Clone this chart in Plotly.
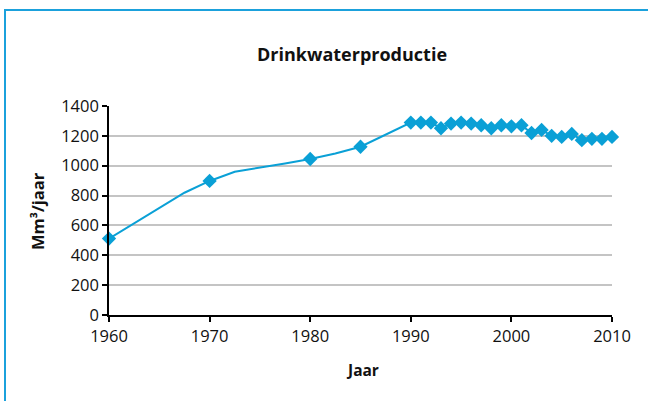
import plotly.graph_objects as go

# Measured years (shown with markers)
years_marked = [1960, 1970, 1980, 1985,
                1990, 1991, 1992, 1993, 1994, 1995, 1996, 1997, 1998, 1999,
                2000, 2001, 2002, 2003, 2004, 2005, 2006, 2007, 2008, 2009, 2010]
values_marked = [512, 898, 1045, 1127,
                 1289, 1289, 1289, 1251, 1282, 1289, 1282, 1271, 1251, 1271,
                 1264, 1271, 1219, 1240, 1200, 1193, 1213, 1171, 1180, 1180, 1193]

# Intermediate points on the line (no markers)
years_line_only = [1967.5, 1972.5, 1977.5, 1982.5]
values_line_only = [819, 960, 1015, 1082]

x_ticks = [1960, 1970, 1980, 1990, 2000, 2010]
y_ticks = [0, 200, 400, 600, 800, 1000, 1200, 1400]

title_text = "Drinkwaterproductie"
x_title = "Jaar"
y_title = "Mm³/jaar"

line_pts = sorted(zip(years_marked + years_line_only, values_marked + values_line_only))
line_x = [p[0] for p in line_pts]
line_y = [p[1] for p in line_pts]

blue = "#0aa0d6"
font_family = "Open Sans, Noto Sans, sans-serif"

fig = go.Figure()
fig.add_trace(go.Scatter(x=line_x, y=line_y, mode="lines",
                         line=dict(color=blue, width=2), cliponaxis=False,
                         showlegend=False, hoverinfo="skip"))
fig.add_trace(go.Scatter(x=years_marked, y=values_marked, mode="markers",
                         marker=dict(symbol="diamond", size=11, color=blue),
                         cliponaxis=False, showlegend=False))

L, R, T, B = 109, 612, 106, 315
W, H = 648, 401

def px(xp):
    return (xp - L) / (R - L)

def py(yp):
    return (B - yp) / (B - T)

fig.update_layout(
    width=W, height=H,
    margin=dict(l=L, r=W - R, t=T, b=H - B, pad=0),
    paper_bgcolor="white", plot_bgcolor="white",
    font=dict(family=font_family, size=16, color="#111111"),
    xaxis=dict(range=[1960, 2010], tickvals=x_ticks, showgrid=False, zeroline=False,
               showline=True, linecolor="black", linewidth=1.5,
               ticks="outside", ticklen=5, tickcolor="black", tickwidth=1.5,
               tickfont=dict(size=16.5)),
    yaxis=dict(range=[0, 1400], tickvals=y_ticks, showgrid=True, gridcolor="#c4c4c4",
               gridwidth=1.5, zeroline=False,
               showline=True, linecolor="black", linewidth=1.5,
               ticks="outside", ticklen=5, tickcolor="black", tickwidth=1.5,
               tickfont=dict(size=16.5)),
    annotations=[
        dict(text="<b>" + title_text + "</b>", x=px(352), y=py(54), xref="paper", yref="paper",
             showarrow=False, font=dict(size=18, family=font_family, color="#111111"),
             xanchor="center", yanchor="middle"),
        dict(text="<b>" + x_title + "</b>", x=px(362), y=py(370), xref="paper", yref="paper",
             showarrow=False, font=dict(size=15.5, family=font_family, color="#111111"),
             xanchor="center", yanchor="middle"),
        dict(text="<b>" + y_title + "</b>", x=px(37), y=py(211), xref="paper", yref="paper",
             showarrow=False, textangle=-90,
             font=dict(size=16.5, family=font_family, color="#111111"),
             xanchor="center", yanchor="middle"),
    ],
    shapes=[
        dict(type="line", xref="paper", yref="paper",
             x0=px(5), y0=py(10), x1=px(W), y1=py(10),
             line=dict(color="#1ba1dc", width=2), layer="below"),
        dict(type="line", xref="paper", yref="paper",
             x0=px(5), y0=py(9), x1=px(5), y1=py(H),
             line=dict(color="#1ba1dc", width=2), layer="below"),
    ],
)

fig.write_html("out.html", config={"displayModeBar": False},
               post_script="document.body.style.margin='0';document.body.style.overflow='hidden';")
